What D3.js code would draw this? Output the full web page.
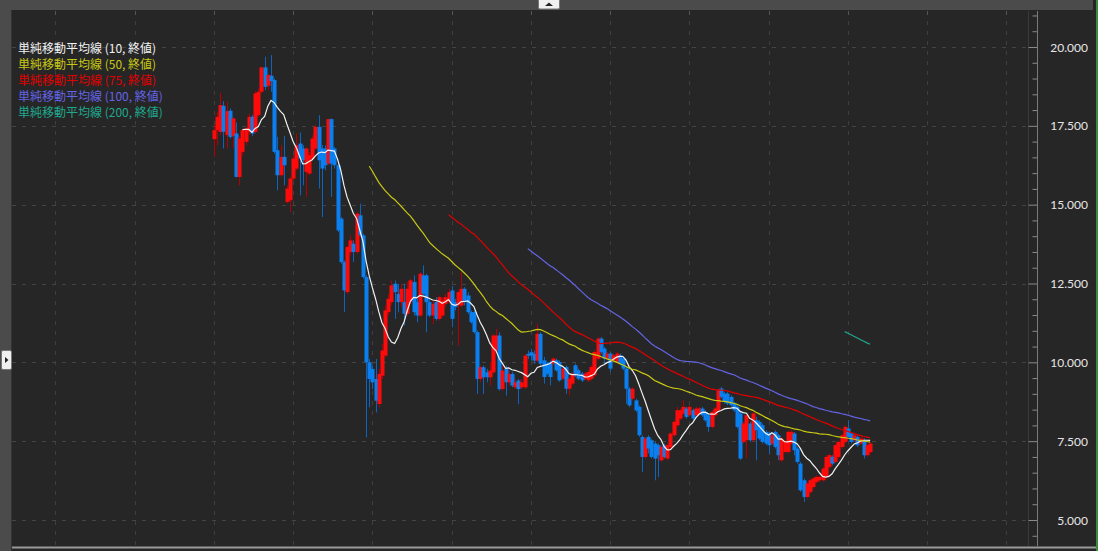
<!DOCTYPE html>
<html><head><meta charset="utf-8">
<script src="https://cdn.jsdelivr.net/npm/d3@7"></script>
<style>html,body{margin:0;padding:0;background:#262626;overflow:hidden}</style>
</head><body><svg id="c" width="1098" height="551"></svg>
<script>
// ---- DATA ----
const openP = [17077,17362,17310,18136,17204,17977,17183,17257,15880,16674,16992,17310,17786,17310,17839,18580,19353,18771,19089,18951,16727,15933,16515,15086,15139,15827,16145,16939,16780,16039,15986,16462,16780,17468,16780,16780,16304,17712,16780,16251,14556,13179,12226,13497,13762,13497,14662,14027,12703,10002,9791,9473,8679,9579,10214,11591,11909,12491,12173,11909,11909,11538,11909,12544,11909,11485,12756,12756,11909,11485,11909,11379,11485,11856,11909,12279,11909,11803,11803,12332,12120,11591,11591,10956,9473,9844,9685,9526,9685,10373,10850,9155,9791,9367,9632,9208,9420,9208,9208,10267,10320,10267,10055,10903,10064,9958,10011,9959,10064,10011,9482,9853,9164,9323,9906,9747,9641,9482,9429,9482,9588,10117,10753,10435,10117,10276,10064,10011,10223,10117,9800,9164,8847,8794,8587,7635,7000,7635,7529,7423,7370,6894,7370,6947,7317,7688,8005,8217,8375,8534,8322,8481,8322,8375,8534,8428,8322,7952,8322,8481,9169,9010,9010,8904,8693,8587,8376,7477,7530,8059,7530,8164,8111,8006,7794,7741,7424,7794,7688,6895,7159,7159,7424,7741,7265,6789,6260,5731,5890,6048,6207,6260,6260,6366,6683,7001,6842,7001,7318,7477,7900,7741,7530,7635,7424,7530,7054,7159];
const highP = [17521,17945,18549,18284,18263,18051,17786,17606,17183,17416,17468,17892,17839,18602,18686,19375,19692,19163,19745,19004,17151,16886,17183,15615,15880,16568,17257,17288,16886,16833,16674,17204,17521,17839,16886,16886,17733,17733,16833,16357,14609,13232,13709,14027,13868,14768,15033,14080,12756,10108,9897,10108,9791,10585,11803,12173,12597,12597,12491,12491,12491,12544,12650,12756,12015,12862,13074,12809,12015,11962,12067,12120,12067,12173,12332,12417,12015,12279,12862,12385,12226,11644,11644,11009,9897,9897,9791,10002,10903,11061,10956,9897,9897,9738,9700,9473,9473,9473,10267,10373,10426,10373,11221,10956,10170,10010,10060,10170,10117,10064,9853,9906,9535,9694,9959,9800,9694,9694,9747,9906,10382,10806,10806,10488,10329,10329,10276,10329,10276,10170,9853,9217,9217,8847,8640,7688,7635,7688,7582,7476,7423,7370,7423,7423,7793,8164,8587,8534,8798,8587,8640,8534,8587,8587,8587,8481,8375,8481,8587,9169,9222,9063,9063,8957,8746,8640,8429,8112,8376,8112,8429,8270,8164,8059,7847,7794,7741,7847,7741,7636,7530,7847,7847,7794,7318,6842,6313,6207,6313,6366,6419,6419,6683,7054,7106,7054,7424,7530,7741,8006,8164,7794,7741,7688,7636,7583,7424,7477];
const lowP = [16515,16886,17204,16780,16780,17098,16780,15870,15615,16568,16886,17204,17183,17257,17786,18527,18633,18633,18580,16621,15456,15880,15615,15033,14768,15774,16092,15297,15615,15245,15933,16409,16727,15509,14609,16092,16251,15245,16145,14132,13126,11591,12173,13391,13179,13444,13974,12650,7620,8573,9155,8414,8573,9473,10161,11485,11803,11379,11591,11750,11168,11485,11856,11485,11273,11432,12120,10956,11432,11221,11326,11326,11432,11750,11856,11115,11644,10532,11750,11803,11538,11221,10903,8996,9367,8996,9367,9261,9632,10320,9102,9102,8943,9261,9208,9155,8679,9155,9155,10108,10055,9949,10002,9900,9323,9590,9270,9900,9700,9380,9429,9005,8952,9270,9535,9429,9376,9429,9376,9429,9535,10064,10276,9959,10064,9694,10011,9959,9906,9747,8688,8582,8794,8423,7635,6524,6947,7106,6947,6259,6365,6841,6947,6894,7264,7635,7952,8164,8322,8217,8269,8164,8269,8322,8269,8111,7793,7899,8269,8428,8851,8693,8640,8587,8428,7899,6900,7424,6948,7477,7477,6895,7530,7424,7371,7106,7371,7265,6895,6842,7106,7106,7371,7054,6789,5890,5572,5678,5837,5995,6154,6207,6207,6313,6630,6736,6789,6948,7265,7424,7583,7424,7477,7318,7371,6948,7001,7106];
const closeP = [17362,17786,18157,17310,17966,17151,17733,15880,17098,17362,17416,17786,17257,18527,18580,19353,18739,19110,18919,16674,15933,16515,16251,15509,15827,16462,16886,16462,16409,16780,16568,17098,17468,16409,16145,16251,17712,16304,16251,14186,13179,12279,13656,13868,13497,14715,14027,12703,10002,9473,9367,8784,9632,10373,11644,12015,12438,12226,11909,12332,11538,12332,12597,11591,11485,12809,12173,11909,11485,11856,11379,12067,11962,12067,12226,11379,11750,12226,12332,11909,11591,11273,10956,9473,9844,9526,9526,9738,10850,10850,9150,9738,9367,9632,9261,9367,9155,9367,10214,10214,10214,10055,10903,9959,9535,9641,9535,10117,9747,9429,9800,9164,9482,9641,9588,9482,9429,9641,9694,9853,10329,10753,10329,10117,10276,9800,10223,10276,9959,9800,9164,8635,9164,8476,7688,7000,7582,7264,7000,6947,7053,7317,7000,7370,7740,8111,8481,8481,8587,8269,8587,8217,8534,8534,8322,8164,7952,8428,8534,9116,8904,8746,8693,8640,8481,7952,6948,8059,8323,7530,8376,7847,7583,7477,7424,7371,7688,7318,7054,7583,7477,7794,7794,7212,6842,5943,5731,6154,6260,6313,6366,6366,6630,7001,7054,6789,7371,7477,7688,7953,7635,7477,7688,7371,7583,7054,7371,7424];
const maPeriods = [10, 50, 75, 100, 200];
const maColors = ["#f2f2f2", "#c8c814", "#e00000", "#6464e6", "#1fa88e"];
const maLabels = ["単純移動平均線 (10, 終値)", "単純移動平均線 (50, 終値)", "単純移動平均線 (75, 終値)", "単純移動平均線 (100, 終値)", "単純移動平均線 (200, 終値)"];
const yMajorTicks = [5000, 7500, 10000, 12500, 15000, 17500, 20000];
const yTickLabels = ["5.000", "7.500", "10.000", "12.500", "15.000", "17.500", "20.000"];
const xGridIdx = [-50,-25,0,25,50,75,100,125,150,175,200,225,250];

// ---- CHART ----
const svg = d3.select("#c");
const W = 1098, H = 551;
const plotL = 12, plotR = 1028, plotT = 11, plotB = 546, axisX = 1037;
const x = d3.scaleLinear().domain([-63.7, 256.8]).range([plotL, plotR]);
const y = d3.scaleLinear().domain([5000, 20000]).range([520, 47]);

svg.append("rect").attr("width", W).attr("height", H).attr("fill", "#262626");

const g = svg.append("g");
// grid
g.selectAll(".vg").data(xGridIdx).join("line")
  .attr("x1", d => Math.round(x(d)) + 0.5).attr("x2", d => Math.round(x(d)) + 0.5)
  .attr("y1", plotT).attr("y2", plotB)
  .attr("stroke", "#3e3e3e").attr("stroke-width", 1).attr("stroke-dasharray", "4,6");
g.selectAll(".hg").data(yMajorTicks).join("line")
  .attr("x1", plotL).attr("x2", plotR)
  .attr("y1", d => Math.round(y(d)) + 0.5).attr("y2", d => Math.round(y(d)) + 0.5)
  .attr("stroke", "#444").attr("stroke-width", 1).attr("stroke-dasharray", "4,6");
// top ticks
g.selectAll(".tt").data(xGridIdx).join("line")
  .attr("x1", d => Math.round(x(d)) + 0.5).attr("x2", d => Math.round(x(d)) + 0.5)
  .attr("y1", plotT).attr("y2", plotT + 4).attr("stroke", "#555");

// candles
const idx = d3.range(closeP.length);
const up = i => closeP[i] >= openP[i];
const cg = svg.append("g");
cg.selectAll(".wick").data(idx).join("line")
  .attr("x1", i => Math.round(x(i)) + 0.5).attr("x2", i => Math.round(x(i)) + 0.5)
  .attr("y1", i => y(highP[i])).attr("y2", i => y(lowP[i]))
  .attr("stroke", i => up(i) ? "#b40000" : "#0a64c0").attr("stroke-width", 1);
cg.selectAll(".body").data(idx).join("rect")
  .attr("x", i => Math.round(x(i)) - 1.5).attr("width", 4)
  .attr("y", i => y(Math.max(openP[i], closeP[i])))
  .attr("height", i => Math.max(1, Math.abs(y(openP[i]) - y(closeP[i]))))
  .attr("fill", i => up(i) ? "#ff0a0a" : "#0a80f0");

// moving averages
function sma(n) {
  const out = [];
  for (let i = n - 1; i < closeP.length; i++) {
    out.push({ i, v: d3.mean(closeP.slice(i - n + 1, i + 1)) });
  }
  return out;
}
const line = d3.line().x(d => x(d.i)).y(d => y(d.v));
maPeriods.forEach((n, k) => {
  svg.append("path").datum(sma(n)).attr("d", line)
    .attr("fill", "none").attr("stroke", maColors[k]).attr("stroke-width", 1.2);
});

// legend
const lg = svg.append("g").attr("font-family", "'Noto Sans CJK JP', 'Noto Sans', sans-serif").attr("font-size", 12);
maLabels.forEach((t, k) => {
  lg.append("text").attr("x", 18).attr("y", 52.5 + 16 * k).attr("fill", maColors[k]).text(t);
});

// right axis
svg.append("rect").attr("x", plotR + 1).attr("y", plotT).attr("width", W - plotR).attr("height", plotB - plotT).attr("fill", "#262626");
svg.append("line").attr("x1", plotR + 0.5).attr("x2", plotR + 0.5).attr("y1", plotT).attr("y2", plotB).attr("stroke", "#3a3a3a");
const minor = d3.range(4500, 21001, 500).filter(v => !yMajorTicks.includes(v));
const axMinor = d3.axisLeft(y).tickValues(minor).tickSize(5).tickFormat("");
const axMajor = d3.axisLeft(y).tickValues(yMajorTicks).tickSize(9).tickFormat("");
const ag1 = svg.append("g").attr("transform", `translate(${axisX + 0.5},0)`).call(axMinor);
const ag2 = svg.append("g").attr("transform", `translate(${axisX + 0.5},0)`).call(axMajor);
[ag1, ag2].forEach(a => { a.select(".domain").remove(); a.selectAll("line").attr("stroke", "#8a8a8a"); });
svg.append("line").attr("x1", axisX + 0.5).attr("x2", axisX + 0.5).attr("y1", plotT).attr("y2", plotB).attr("stroke", "#7a7a7a");
svg.append("g").selectAll("text").data(yMajorTicks).join("text")
  .attr("x", 1088).attr("y", d => y(d) + 4.5).attr("text-anchor", "end")
  .attr("font-family", "Lato, 'Open Sans', sans-serif").attr("font-size", 12).attr("fill", "#e6e6e6")
  .text((d, k) => yTickLabels[k]);

// frame chrome
svg.append("line").attr("x1", plotL).attr("x2", W).attr("y1", 547.5).attr("y2", 547.5).attr("stroke", "#9a9a9a").attr("stroke-width", 2);
svg.append("rect").attr("x", 0).attr("y", 0).attr("width", 1093).attr("height", 10).attr("fill", "#4b4b4b");
svg.append("rect").attr("x", 0).attr("y", 0).attr("width", 11).attr("height", H).attr("fill", "#4b4b4b");
svg.append("line").attr("x1", 11.5).attr("x2", 11.5).attr("y1", 10).attr("y2", H).attr("stroke", "#333");
svg.append("rect").attr("x", 1096).attr("y", 0).attr("width", 2).attr("height", H).attr("fill", "#3c8a3c");
// top button
svg.append("rect").attr("x", 538.5).attr("y", -1).attr("width", 21).attr("height", 10).attr("rx", 1.5).attr("fill", "#f0f0f0").attr("stroke", "#777");
svg.append("path").attr("d", "M545,6 L549,2.5 L553,6 Z").attr("fill", "#222");
// left button
svg.append("rect").attr("x", 1.5).attr("y", 350.5).attr("width", 10).attr("height", 19).attr("rx", 1.5).attr("fill", "#f0f0f0").attr("stroke", "#777");
svg.append("path").attr("d", "M5,357 L8.5,360 L5,363 Z").attr("fill", "#222");
</script></body></html>
